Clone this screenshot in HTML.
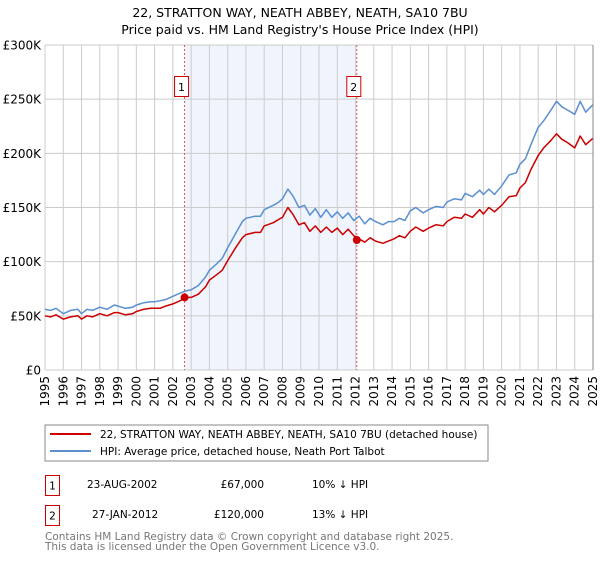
<!DOCTYPE html>
<html><head><meta charset="utf-8"><style>
body{margin:0;background:#fff;width:600px;height:560px;overflow:hidden;font-family:"DejaVu Sans","Liberation Sans",sans-serif;}
svg text{font-family:"DejaVu Sans","Liberation Sans",sans-serif;}
</style></head><body>
<svg id="chart" width="600" height="560" xmlns="http://www.w3.org/2000/svg">
<text x="300" y="17" text-anchor="middle" font-size="12.5">22, STRATTON WAY, NEATH ABBEY, NEATH, SA10 7BU</text>
<text x="300" y="34" text-anchor="middle" font-size="12.5">Price paid vs. HM Land Registry's House Price Index (HPI)</text>
<g id="plot"></g>
<rect x="45" y="425" width="443" height="36" fill="#fff" stroke="#888"/>
<line x1="50" y1="434" x2="91" y2="434" stroke="#cc0000" stroke-width="2"/>
<text x="100" y="438" font-size="10.5">22, STRATTON WAY, NEATH ABBEY, NEATH, SA10 7BU (detached house)</text>
<line x1="50" y1="451" x2="91" y2="451" stroke="#5b8fd0" stroke-width="2"/>
<text x="100" y="455" font-size="10.5">HPI: Average price, detached house, Neath Port Talbot</text>
<rect x="45.5" y="475.5" width="14" height="20" fill="none" stroke="#cc0000"/>
<text x="52.5" y="489.5" text-anchor="middle" font-size="10.5">1</text>
<text x="87" y="488" font-size="10.5">23-AUG-2002</text>
<text x="264" y="488" text-anchor="end" font-size="10.5">£67,000</text>
<text x="312" y="488" font-size="10.5">10% ↓ HPI</text>
<rect x="45.5" y="505.5" width="14" height="20" fill="none" stroke="#cc0000"/>
<text x="52.5" y="519.5" text-anchor="middle" font-size="10.5">2</text>
<text x="92" y="518" font-size="10.5">27-JAN-2012</text>
<text x="264" y="518" text-anchor="end" font-size="10.5">£120,000</text>
<text x="312" y="518" font-size="10.5">13% ↓ HPI</text>
<text x="45" y="540" font-size="10.5" fill="#777">Contains HM Land Registry data © Crown copyright and database right 2025.</text>
<text x="45" y="550" font-size="10.5" fill="#777">This data is licensed under the Open Government Licence v3.0.</text>
</svg>
<script>
const hpiYears=[1995,1995.3,1995.6,1996,1996.4,1996.8,1997,1997.3,1997.6,1998,1998.4,1998.8,1999,1999.4,1999.8,2000,2000.4,2000.8,2001,2001.3,2001.6,2002,2002.4,2002.7,2003,2003.4,2003.8,2004,2004.4,2004.7,2005,2005.4,2005.8,2006,2006.5,2006.8,2007,2007.5,2007.8,2008,2008.3,2008.6,2008.9,2009.2,2009.5,2009.8,2010.1,2010.4,2010.7,2011,2011.3,2011.6,2011.9,2012.2,2012.5,2012.8,2013.1,2013.5,2013.8,2014.1,2014.4,2014.7,2015,2015.3,2015.7,2016,2016.4,2016.8,2017,2017.4,2017.8,2018,2018.4,2018.8,2019,2019.3,2019.6,2020,2020.4,2020.8,2021,2021.3,2021.6,2022,2022.3,2022.7,2023,2023.3,2023.6,2024,2024.3,2024.6,2025];
const hpiValues=[56,55,57,52,55,56,52,56,55,58,56,60,59,57,58,60,62,63,63,64,65,68,71,73,74,78,86,92,98,103,113,125,137,140,142,142,148,152,155,158,167,160,150,152,143,149,141,148,141,146,140,145,138,142,135,140,137,134,137,137,140,138,147,150,145,148,151,150,155,158,157,163,160,166,162,167,162,170,180,182,190,195,208,224,230,240,248,243,240,236,248,238,245];
const propYears=hpiYears;
const propValues=[50,49,51,47,49,50,47,50,49,52,50,53,53,51,52,54,56,57,57,57,59,61,64,67,67,70,77,83,88,92,101,112,122,125,127,127,133,136,139,141,150,143,134,136,128,133,127,132,127,131,125,130,124,121,118,122,119,117,119,121,124,122,128,132,128,131,134,133,137,141,140,144,141,148,144,150,146,152,160,161,168,173,185,198,205,212,218,213,210,205,216,208,214];
const saleYears=[2002.64,2012.07];
const salePrices=[67000,120000];
const yTicks=[0,50000,100000,150000,200000,250000,300000];
const yTickLabels=["£0","£50K","£100K","£150K","£200K","£250K","£300K"];
const xTicks=[1995,1996,1997,1998,1999,2000,2001,2002,2003,2004,2005,2006,2007,2008,2009,2010,2011,2012,2013,2014,2015,2016,2017,2018,2019,2020,2021,2022,2023,2024,2025];
const X0=45,X1=593,Y0=370,Y1=45;
const xs=y=>X0+(y-1995)/30*(X1-X0);
const ys=v=>Y0-v/300000*(Y0-Y1);
const NS="http://www.w3.org/2000/svg";
const g=document.getElementById('plot');
function mk(t,a){const e=document.createElementNS(NS,t);for(const k in a)e.setAttribute(k,a[k]);g.appendChild(e);return e;}
let e=mk('rect',{x:xs(saleYears[0]),y:Y1,width:xs(saleYears[1])-xs(saleYears[0]),height:Y0-Y1,fill:'#f0f4fc'});


xTicks.forEach((t,i)=>{
 const l=mk('line',{x1:xs(t),x2:xs(t),y1:Y1,y2:Y0,stroke:'#ccc','stroke-width':1});
 
 
 const tx=mk('text',{x:0,y:0,'font-size':12,'text-anchor':'end',transform:`translate(${xs(t)+4},${Y0+6}) rotate(-90)`});
 tx.textContent=t;
 
 
});
yTicks.forEach((t,i)=>{
 const l=mk('line',{x1:X0,x2:X1,y1:ys(t),y2:ys(t),stroke:'#ccc','stroke-width':1});
 
 
 const tx=mk('text',{x:X0-4,y:ys(t)+4.5,'font-size':12,'text-anchor':'end'});
 tx.textContent=yTickLabels[i];
 
 
});
saleYears.forEach((s,i)=>{
 const l=mk('line',{x1:xs(s),x2:xs(s),y1:Y1,y2:Y0,stroke:'#e05555','stroke-width':1,'stroke-dasharray':'2,2'});
 
 
 const r=mk('rect',{x:xs(s)-10,y:76.5,width:14,height:20,fill:'#fff',stroke:'#cc0000'});
 
 
 const t=mk('text',{x:xs(s)-3,y:91,'font-size':11,'text-anchor':'middle'});
 t.textContent=String(i+1);
 
 
});
function path(xsA,vs,c,name){
 const d=xsA.map((y,i)=>(i?'L':'M')+xs(y).toFixed(1)+','+ys(vs[i]*1000).toFixed(1)).join('');
 const p=mk('path',{d:d,fill:'none',stroke:c,'stroke-width':1.5,'stroke-linejoin':'round'});
 
 
}
path(hpiYears,hpiValues,'#5b8fd0','hpi-line');
path(propYears,propValues,'#cc0000','property-line');
saleYears.forEach((s,i)=>{
 const c=mk('circle',{cx:xs(s),cy:ys(salePrices[i]),r:4,fill:'#cc0000'});
 
 
});
const ax=mk('line',{x1:X1,x2:X1,y1:Y1,y2:Y0,stroke:'#888','stroke-width':1});


</script>
</body></html>
